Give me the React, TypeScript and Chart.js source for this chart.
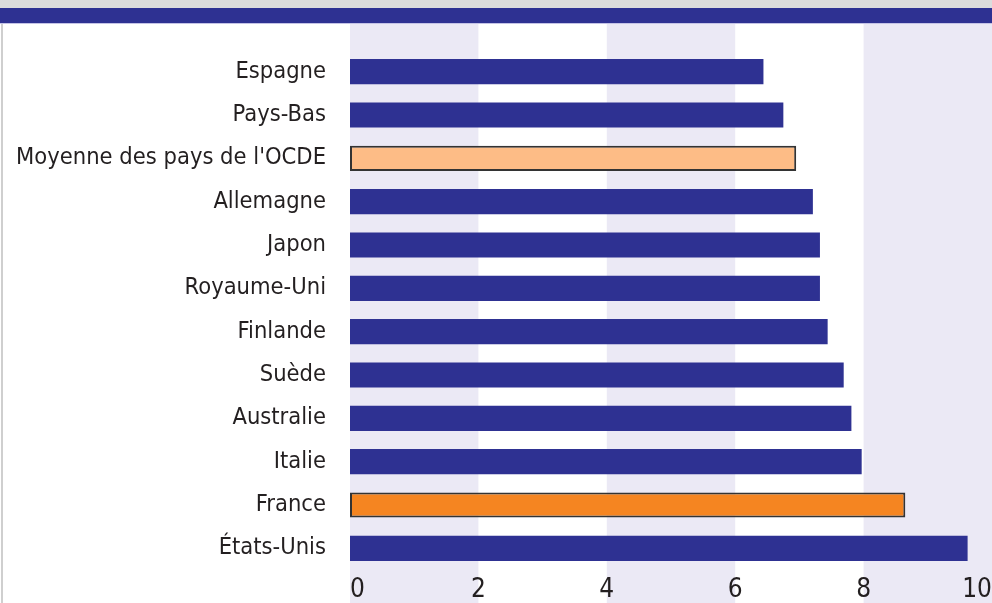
import React, { useEffect, useRef } from "react";
import { Chart, registerables } from "chart.js";

Chart.register(...registerables);

const categories: string[] = [
  "Espagne",
  "Pays-Bas",
  "Moyenne des pays de l'OCDE",
  "Allemagne",
  "Japon",
  "Royaume-Uni",
  "Finlande",
  "Suède",
  "Australie",
  "Italie",
  "France",
  "États-Unis",
];

const values: number[] = [6.44, 6.75, 6.95, 7.21, 7.32, 7.32, 7.44, 7.69, 7.81, 7.97, 8.65, 9.62];

const xTickValues: number[] = [0, 2, 4, 6, 8, 10];
const shadedBands: number[][] = [
  [0, 2],
  [4, 6],
  [8, 10],
];

const averageLabel = "Moyenne des pays de l'OCDE";
const franceLabel = "France";

const NAVY = "#2e3192";
const LAVENDER = "#ebe9f5";
const LIGHT_ORANGE = "#fdbc86";
const ORANGE = "#f58521";
const FONT = "'Liberation Sans Narrow', 'Arial Narrow', 'DejaVu Sans Condensed', sans-serif";

const decorPlugin = {
  id: "decor",
  beforeDraw(chart: any) {
    const { ctx, width, height } = chart;
    const xs = chart.scales.x;
    ctx.save();
    ctx.fillStyle = "#ffffff";
    ctx.fillRect(0, 0, width, height);
    // bands
    ctx.fillStyle = LAVENDER;
    shadedBands.forEach(([a, b]) => {
      const x1 = xs.getPixelForValue(a);
      const x2 = b >= 10 ? width : xs.getPixelForValue(b);
      ctx.fillRect(x1, 24, x2 - x1, height - 24);
    });
    // header
    ctx.fillStyle = "#dcdcdc";
    ctx.fillRect(0, 0, width, 8);
    ctx.fillStyle = NAVY;
    ctx.fillRect(0, 8, width, 15);
    ctx.fillStyle = "#c4c3e6";
    ctx.fillRect(0, 23, width, 1);
    // left border
    ctx.fillStyle = "#cfcfcf";
    ctx.fillRect(1, 24, 2, height - 24);
    ctx.restore();
  },
};

export default function App() {
  const ref = useRef<HTMLCanvasElement | null>(null);

  useEffect(() => {
    if (!ref.current) return;
    const bg = categories.map((c) =>
      c === averageLabel ? LIGHT_ORANGE : c === franceLabel ? ORANGE : NAVY
    );
    const bw = categories.map((c) => (c === averageLabel || c === franceLabel ? 2 : 0));
    const chart = new Chart(ref.current, {
      type: "bar",
      data: {
        labels: categories,
        datasets: [
          {
            data: values,
            backgroundColor: bg,
            borderColor: "#333333",
            borderWidth: bw,
            borderSkipped: false,
            barPercentage: 0.58,
            categoryPercentage: 1,
          },
        ],
      },
      options: {
        indexAxis: "y",
        animation: false,
        responsive: false,
        maintainAspectRatio: false,
        layout: { padding: { top: 50, left: 0, right: 0, bottom: 0 } },
        plugins: {
          legend: { display: false },
          tooltip: { enabled: false },
        },
        scales: {
          x: {
            type: "linear",
            min: 0,
            max: 10,
            afterBuildTicks: (s: any) => {
              s.ticks = xTickValues.map((v) => ({ value: v }));
            },
            afterFit: (s: any) => {
              s.paddingLeft = 0;
              s.paddingRight = 0;
              s.height = 33;
            },
            grid: { display: false, drawTicks: false },
            border: { display: false },
            ticks: {
              align: "inner",
              padding: 7,
              color: "#231f20",
              font: { family: FONT, size: 26, lineHeight: 1 },
              maxRotation: 0,
            },
          },
          y: {
            type: "category",
            afterFit: (s: any) => {
              s.width = 350;
              s.paddingTop = 0;
              s.paddingBottom = 0;
            },
            grid: { display: false, drawTicks: false },
            border: { display: false },
            ticks: {
              padding: 24,
              color: "#231f20",
              font: { family: FONT, size: 23.5 },
            },
          },
        },
      },
      plugins: [decorPlugin],
    });
    return () => chart.destroy();
  }, []);

  return (
    <div style={{ position: "absolute", left: 0, top: 0, width: 992, height: 603, overflow: "hidden" }}>
      <canvas ref={ref} width={992} height={603} style={{ display: "block" }} />
    </div>
  );
}
